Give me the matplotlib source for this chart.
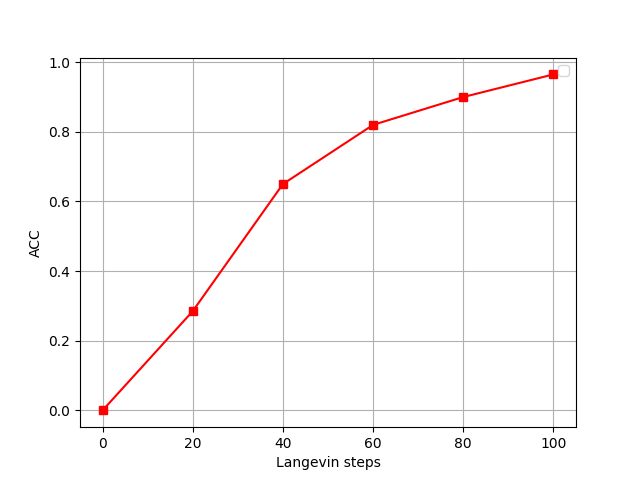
import matplotlib
matplotlib.use("Agg")
import matplotlib.pyplot as plt

steps = [0, 20, 40, 60, 80, 100]
acc = [0.0, 0.285, 0.65, 0.82, 0.90, 0.965]

fig, ax = plt.subplots(figsize=(6.4, 4.8), dpi=100)
ax.plot(steps, acc, color="red", marker="s")
ax.set_xlabel("Langevin steps")
ax.set_ylabel("ACC")
ax.grid(True)
ax.legend()
plt.savefig("out.png")
